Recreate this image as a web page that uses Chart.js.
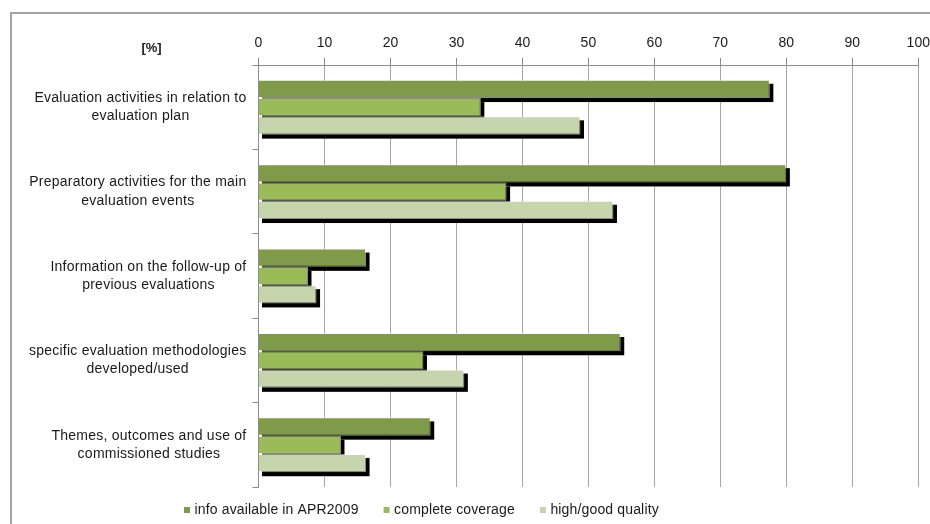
<!DOCTYPE html>
<html>
<head>
<meta charset="utf-8">
<script src="https://cdn.jsdelivr.net/npm/chart.js@4/dist/chart.umd.min.js"></script>
<style>
  html, body { margin: 0; padding: 0; background: #ffffff; }
  #wrap { width: 930px; height: 524px; }
</style>
</head>
<body>
<div id="wrap"><canvas id="chart" width="930" height="524"></canvas></div>
<script>
// Categories (two-line labels) and the three series, in percent
const categories = [
  ['Evaluation activities in relation to', 'evaluation plan'],
  ['Preparatory activities for the main', 'evaluation events'],
  ['Information on the follow-up of', 'previous evaluations'],
  ['specific evaluation methodologies', 'developed/used'],
  ['Themes, outcomes and use of', 'commissioned studies']
];
const seriesNames = ['info available in APR2009', 'complete coverage', 'high/good quality'];
const infoAvailable = [77.5, 80.0, 16.3, 54.9, 26.1];
const completeCoverage = [33.7, 37.6, 7.5, 25.0, 12.5];
const highQuality = [48.8, 53.8, 8.8, 31.2, 16.3];
const axisMin = 0;
const axisMax = 100;
const axisStep = 10;
const unitLabel = '[%]';

const seriesColors = ['#7f9a48', '#9bbb59', '#c6d5ac'];
const FONT = '"Liberation Sans", Arial, Helvetica, sans-serif';
const TEXT = '#1a1a1a';

// Frame around the whole figure
const framePlugin = {
  id: 'frame',
  beforeDraw(chart) {
    const ctx = chart.ctx;
    ctx.save();
    ctx.strokeStyle = '#a3a3a3';
    ctx.lineWidth = 2;
    ctx.beginPath();
    ctx.moveTo(11, chart.height + 2);
    ctx.lineTo(11, 13);
    ctx.lineTo(chart.width + 2, 13);
    ctx.stroke();
    ctx.restore();
  }
};

// Solid black drop shadow behind each bar
const shadowPlugin = {
  id: 'barShadow',
  beforeDatasetsDraw(chart) {
    const ctx = chart.ctx;
    ctx.save();
    ctx.fillStyle = '#000000';
    chart.data.datasets.forEach((ds, d) => {
      const meta = chart.getDatasetMeta(d);
      meta.data.forEach(bar => {
        const p = bar.getProps(['x', 'y', 'base', 'height'], true);
        ctx.fillRect(p.base + 3, p.y - p.height / 2 + 4, p.x - p.base + 0.5, p.height);
      });
    });
    ctx.restore();
  }
};

// Category labels: right-aligned block, lines centred within the block
const categoryLabelPlugin = {
  id: 'categoryLabels',
  afterDraw(chart) {
    const ctx = chart.ctx;
    const ys = chart.scales.y;
    ctx.save();
    ctx.font = '14px ' + FONT;
    ctx.letterSpacing = '0.25px';
    ctx.fillStyle = TEXT;
    ctx.textAlign = 'center';
    ctx.textBaseline = 'middle';
    chart.data.labels.forEach((lines, i) => {
      const cy = ys.getPixelForValue(i);
      const w = Math.max(...lines.map(l => ctx.measureText(l).width));
      const cx = ys.right - 12 - w / 2;
      lines.forEach((l, j) => {
        ctx.fillText(l, cx, cy + (j - (lines.length - 1) / 2) * 18.3);
      });
    });
    // unit label above the category column
    ctx.letterSpacing = '0px';
    ctx.font = 'bold 13px ' + FONT;
    ctx.fillText(unitLabel, 151.5, 48);
    ctx.restore();
  }
};

// Legend row along the bottom
const legendPlugin = {
  id: 'bottomLegend',
  afterDraw(chart) {
    const ctx = chart.ctx;
    ctx.save();
    ctx.font = '14px ' + FONT;
    ctx.letterSpacing = '0.15px';
    ctx.textBaseline = 'middle';
    ctx.textAlign = 'left';
    let x = 184;
    const y = 510;
    chart.data.datasets.forEach(ds => {
      ctx.fillStyle = ds.backgroundColor;
      ctx.fillRect(x, y - 3, 6, 6);
      ctx.fillStyle = TEXT;
      ctx.fillText(ds.label, x + 10.5, y);
      x += 10.5 + ctx.measureText(ds.label).width + 25;
    });
    ctx.restore();
  }
};

new Chart(document.getElementById('chart'), {
  type: 'bar',
  data: {
    labels: categories,
    datasets: [
      { label: seriesNames[0], data: infoAvailable, backgroundColor: seriesColors[0] },
      { label: seriesNames[1], data: completeCoverage, backgroundColor: seriesColors[1] },
      { label: seriesNames[2], data: highQuality, backgroundColor: seriesColors[2] }
    ].map(ds => Object.assign(ds, {
      borderColor: 'rgba(255,255,255,0.55)',
      borderWidth: 1,
      categoryPercentage: 0.65,
      barPercentage: 1.0
    }))
  },
  options: {
    indexAxis: 'y',
    responsive: false,
    devicePixelRatio: 1,
    animation: false,
    layout: { padding: { left: 0, right: 0, top: 0, bottom: 37 } },
    plugins: {
      legend: { display: false },
      tooltip: { enabled: false }
    },
    scales: {
      x: {
        position: 'top',
        min: axisMin,
        max: axisMax,
        afterFit(scale) {
          scale.height = 65;
          scale.paddingLeft = 0;
          scale.paddingRight = 11.7;
        },
        ticks: {
          stepSize: axisStep,
          padding: 6,
          color: TEXT,
          font: { family: FONT, size: 14 }
        },
        grid: { color: '#a6a6a6', lineWidth: 1, tickLength: 7, tickColor: '#8c8c8c' },
        border: { color: '#8c8c8c', width: 1 }
      },
      y: {
        afterFit(scale) { scale.width = 258.5; },
        ticks: { display: false },
        grid: {
          offset: true,
          drawOnChartArea: false,
          drawTicks: true,
          tickLength: 6,
          color: '#8c8c8c'
        },
        border: { color: '#8c8c8c', width: 1 }
      }
    }
  },
  plugins: [framePlugin, shadowPlugin, categoryLabelPlugin, legendPlugin]
});
</script>
</body>
</html>
